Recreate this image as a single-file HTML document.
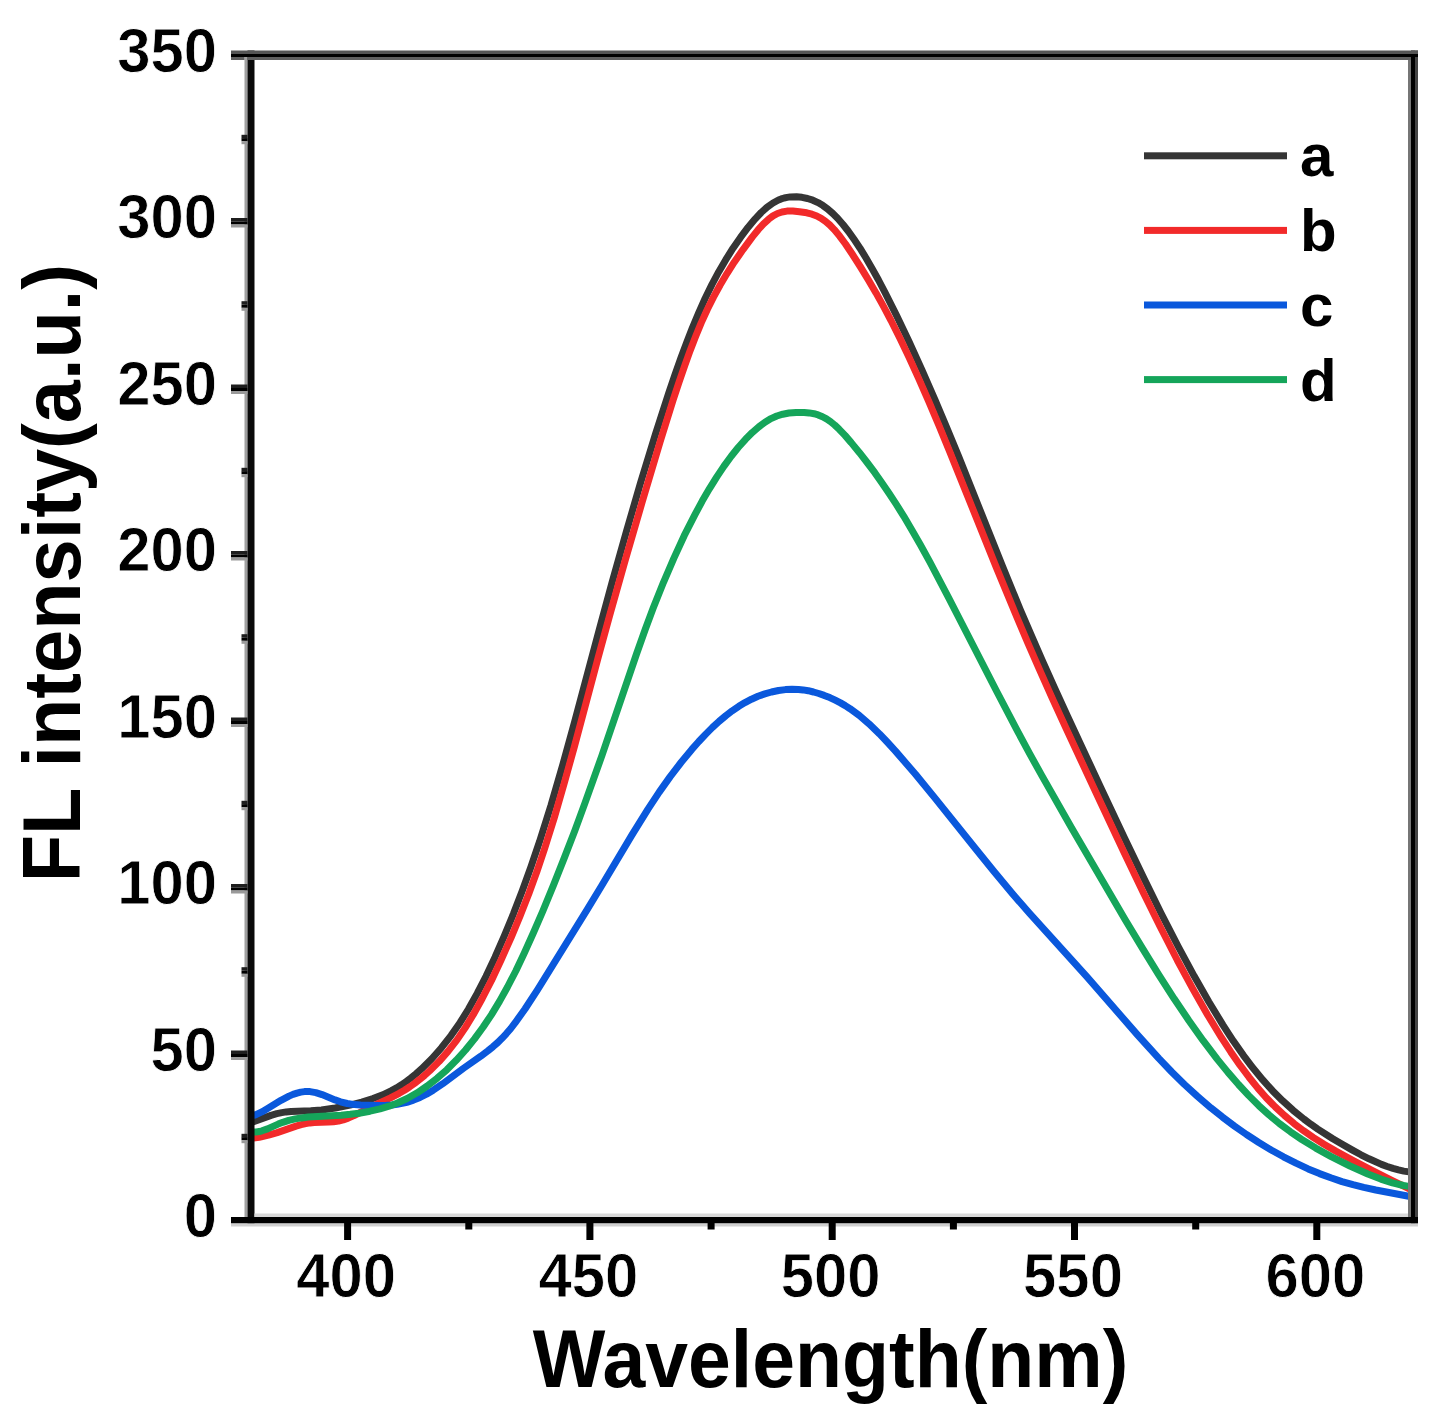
<!DOCTYPE html>
<html><head><meta charset="utf-8"><title>FL intensity vs Wavelength</title>
<style>html,body{margin:0;padding:0;background:#fff;width:1436px;height:1422px;overflow:hidden}svg{display:block}</style>
</head><body>
<svg width="1436" height="1422" viewBox="0 0 1436 1422">
<path d="M251.0,1122.6 L271.0,1115.4 L276.8,1113.7 L281.8,1112.6 L286.2,1111.9 L291.0,1111.5 L310.8,1110.8 L321.5,1110.0 L335.2,1108.0 L350.0,1105.1 L361.8,1102.1 L373.0,1098.5 L382.8,1094.8 L391.5,1090.6 L396.5,1087.9 L401.5,1084.8 L406.2,1081.5 L411.2,1077.7 L416.2,1073.6 L421.5,1068.9 L431.8,1058.7 L441.5,1047.7 L451.0,1035.6 L460.0,1022.7 L468.5,1009.0 L477.2,993.4 L486.0,976.3 L495.0,957.2 L504.2,936.1 L513.5,913.6 L522.2,890.9 L531.0,866.7 L539.5,841.7 L551.0,805.2 L563.0,763.9 L574.8,721.2 L599.8,627.7 L612.0,582.7 L626.5,531.1 L640.5,483.1 L655.5,433.9 L668.8,392.9 L675.0,374.6 L681.0,357.7 L686.8,342.3 L692.5,327.6 L699.0,312.1 L705.2,298.2 L712.0,284.4 L718.8,271.7 L725.8,259.7 L733.0,248.2 L740.5,237.4 L748.2,227.2 L755.0,219.1 L761.2,212.5 L767.2,207.1 L773.0,203.0 L778.5,200.0 L781.2,198.9 L784.2,198.0 L787.2,197.4 L790.2,196.9 L796.5,196.8 L802.0,197.3 L807.5,198.5 L812.8,200.2 L818.0,202.6 L823.0,205.6 L827.8,209.1 L832.8,213.5 L837.8,218.5 L843.0,224.5 L848.5,231.5 L854.2,239.6 L860.0,248.2 L866.0,258.0 L872.2,268.7 L878.5,280.0 L885.2,292.9 L896.5,315.4 L909.0,341.6 L921.8,369.6 L934.8,399.3 L946.5,427.0 L958.5,456.1 L1002.2,565.6 L1020.2,609.5 L1030.8,634.2 L1042.0,660.0 L1054.0,686.8 L1067.5,716.3 L1100.8,787.7 L1124.5,838.1 L1144.0,878.6 L1161.2,913.5 L1178.2,946.5 L1194.0,975.8 L1208.8,1001.7 L1223.0,1025.1 L1233.2,1040.8 L1243.2,1055.1 L1253.0,1068.1 L1262.8,1079.9 L1272.5,1090.7 L1282.5,1100.7 L1293.0,1110.2 L1304.0,1119.1 L1310.8,1124.2 L1317.8,1129.1 L1332.8,1138.8 L1341.8,1144.1 L1352.0,1149.9 L1361.0,1154.8 L1369.0,1158.8 L1381.5,1164.4 L1387.2,1166.5 L1393.0,1168.4 L1398.5,1169.9 L1403.8,1171.1 L1409.0,1171.9 L1414.0,1172.4" fill="none" stroke="#353535" stroke-width="7.0" stroke-linejoin="round"/>
<path d="M251.0,1138.3 L259.2,1137.3 L268.5,1135.2 L277.2,1132.6 L296.0,1126.1 L301.2,1124.6 L305.8,1123.6 L310.0,1122.9 L314.2,1122.5 L328.5,1122.1 L333.5,1121.8 L338.5,1121.1 L343.2,1119.9 L348.2,1118.1 L354.0,1115.6 L371.0,1106.9 L390.5,1097.8 L399.2,1093.3 L404.5,1090.2 L409.5,1087.0 L414.5,1083.5 L419.5,1079.6 L424.5,1075.5 L429.5,1071.0 L439.0,1061.6 L448.0,1051.4 L456.8,1040.1 L465.0,1028.1 L473.2,1014.7 L482.2,998.5 L491.5,980.4 L501.2,959.8 L511.2,937.3 L520.2,915.6 L528.8,893.8 L536.8,871.8 L544.5,849.0 L554.0,818.7 L564.2,783.4 L574.5,746.2 L598.0,658.1 L609.5,616.0 L625.0,561.0 L642.0,502.6 L660.2,441.5 L673.2,399.8 L679.2,381.6 L685.0,364.9 L690.2,350.4 L695.5,336.8 L701.2,322.9 L707.2,309.7 L713.5,297.1 L720.0,285.2 L726.8,273.8 L734.2,262.2 L743.0,249.6 L752.2,237.1 L758.2,229.7 L763.5,223.9 L768.5,219.3 L773.0,215.9 L777.5,213.5 L782.0,212.0 L787.0,211.1 L792.8,211.0 L799.5,211.7 L806.8,212.8 L812.0,214.2 L816.8,216.0 L821.2,218.3 L825.5,221.3 L829.8,225.0 L834.2,229.6 L839.8,236.3 L845.5,244.0 L852.2,254.0 L860.2,266.5 L868.2,279.6 L876.0,292.9 L883.5,306.4 L891.0,320.5 L900.0,338.4 L909.0,357.2 L918.5,378.1 L928.8,401.5 L938.8,425.2 L949.8,451.8 L996.5,567.9 L1016.8,617.0 L1027.8,642.9 L1039.5,669.7 L1052.2,698.2 L1066.5,729.3 L1099.8,800.8 L1123.5,851.3 L1143.0,891.9 L1160.2,926.8 L1177.2,960.0 L1192.8,988.8 L1207.5,1014.7 L1221.5,1037.7 L1230.8,1051.9 L1240.0,1065.2 L1249.0,1077.2 L1257.8,1088.1 L1266.2,1097.7 L1275.2,1106.9 L1284.5,1115.5 L1294.2,1123.7 L1303.5,1130.7 L1313.5,1137.6 L1324.0,1144.3 L1335.8,1151.1 L1351.8,1159.8 L1371.5,1170.1 L1391.8,1180.3 L1414.0,1191.1" fill="none" stroke="#f22a2a" stroke-width="7.0" stroke-linejoin="round"/>
<path d="M251.0,1116.3 L256.0,1114.6 L261.8,1111.9 L267.2,1108.7 L281.0,1100.3 L289.0,1096.1 L293.0,1094.4 L297.0,1093.1 L300.8,1092.1 L304.5,1091.6 L307.2,1091.5 L310.0,1091.6 L315.8,1092.6 L322.0,1094.6 L335.0,1099.9 L340.5,1101.8 L347.2,1103.5 L354.5,1104.6 L360.5,1105.0 L368.2,1105.3 L379.0,1105.5 L386.5,1105.3 L392.0,1104.9 L397.2,1104.3 L402.0,1103.4 L406.8,1102.3 L413.5,1100.1 L420.0,1097.4 L426.5,1094.2 L433.2,1090.2 L442.8,1083.7 L463.2,1068.5 L480.8,1056.2 L488.0,1050.8 L493.0,1046.7 L497.8,1042.5 L502.0,1038.3 L506.2,1033.8 L510.8,1028.5 L515.2,1022.7 L525.0,1009.0 L537.8,989.3 L587.0,909.9 L601.5,886.0 L632.0,834.9 L648.0,809.1 L659.2,792.1 L670.2,776.6 L681.0,762.5 L691.8,749.4 L698.8,741.5 L705.8,734.1 L712.5,727.4 L719.2,721.2 L725.8,715.7 L732.2,710.8 L738.8,706.3 L745.0,702.6 L751.5,699.2 L758.0,696.3 L764.8,693.9 L771.5,692.0 L778.5,690.5 L785.5,689.6 L792.0,689.2 L798.5,689.4 L803.2,689.9 L808.2,690.7 L813.5,692.0 L818.8,693.5 L824.2,695.4 L829.8,697.6 L835.2,700.2 L840.5,702.9 L845.2,705.6 L850.0,708.7 L859.2,715.4 L869.0,723.8 L879.5,733.9 L887.2,742.0 L895.5,751.1 L915.5,774.3 L935.0,798.1 L975.8,849.0 L994.0,871.5 L1012.5,893.7 L1029.5,913.3 L1087.0,976.8 L1137.5,1034.9 L1158.8,1058.4 L1171.8,1072.0 L1184.5,1084.5 L1197.5,1096.4 L1210.8,1107.8 L1222.5,1117.1 L1234.5,1126.1 L1246.5,1134.5 L1258.8,1142.5 L1271.2,1150.0 L1283.5,1156.8 L1296.0,1163.2 L1308.2,1168.9 L1319.5,1173.6 L1330.8,1177.8 L1342.0,1181.6 L1353.0,1184.7 L1363.8,1187.4 L1375.8,1190.0 L1414.0,1197.2" fill="none" stroke="#0a58dc" stroke-width="7.0" stroke-linejoin="round"/>
<path d="M251.0,1131.6 L253.5,1131.9 L256.2,1131.9 L259.0,1131.6 L262.0,1130.8 L267.5,1128.9 L278.2,1124.1 L282.8,1122.3 L288.8,1120.4 L295.2,1118.9 L301.5,1117.9 L308.2,1117.1 L341.2,1115.2 L350.2,1114.3 L359.0,1113.2 L370.0,1111.2 L380.0,1108.9 L389.0,1106.2 L397.5,1103.0 L407.2,1098.5 L417.2,1092.8 L427.2,1086.0 L437.2,1078.2 L446.8,1069.8 L456.2,1060.3 L465.5,1050.0 L474.5,1038.9 L483.0,1027.3 L491.5,1014.6 L499.5,1001.4 L507.5,987.0 L515.8,971.0 L524.2,953.2 L533.2,933.3 L542.8,911.2 L553.5,885.1 L564.2,858.1 L574.8,830.7 L585.2,802.4 L601.8,755.9 L636.5,654.0 L645.2,629.5 L653.2,608.1 L663.5,582.3 L673.8,558.4 L684.2,535.7 L694.8,514.9 L702.2,501.1 L709.5,488.6 L716.8,476.9 L724.0,466.1 L731.2,456.2 L738.2,447.5 L745.5,439.3 L752.5,432.3 L758.8,426.9 L765.0,422.2 L771.0,418.6 L776.8,416.0 L782.8,414.2 L789.0,413.0 L796.2,412.4 L804.2,412.4 L809.2,412.9 L814.0,413.7 L818.2,414.9 L822.5,416.7 L826.5,418.9 L830.5,421.6 L834.8,425.1 L839.2,429.3 L845.0,435.4 L851.2,442.6 L859.5,452.7 L867.5,463.0 L874.8,472.7 L882.0,482.9 L889.0,493.2 L896.0,503.9 L903.8,516.3 L912.0,530.2 L920.5,545.1 L929.8,561.9 L949.2,598.8 L996.5,691.0 L1017.8,731.6 L1029.5,753.4 L1042.0,775.9 L1071.5,827.7 L1125.2,919.7 L1142.8,948.9 L1158.5,974.3 L1174.2,998.8 L1189.0,1020.7 L1203.2,1040.7 L1217.2,1059.1 L1228.0,1072.4 L1238.5,1084.5 L1248.8,1095.6 L1259.0,1105.8 L1269.0,1114.9 L1279.5,1123.6 L1290.5,1131.8 L1301.8,1139.5 L1315.8,1148.1 L1331.2,1156.6 L1350.0,1166.0 L1367.8,1174.0 L1380.8,1179.1 L1392.5,1182.9 L1403.5,1185.5 L1408.8,1186.4 L1414.0,1187.0" fill="none" stroke="#15a55a" stroke-width="7.0" stroke-linejoin="round"/>
<rect x="244.5" y="55" width="3" height="1165" fill="#a0a0a0"/>
<rect x="247.5" y="50.5" width="7" height="1173" fill="#0a0a0a"/>
<rect x="1408" y="57" width="3" height="1160" fill="#767676"/>
<rect x="1411" y="50.5" width="4" height="1173" fill="#000"/>
<rect x="1415" y="50.5" width="3" height="1173" fill="#444"/>
<rect x="231" y="50.5" width="1187" height="3.5" fill="#555"/>
<rect x="231" y="54" width="1187" height="3" fill="#000"/>
<rect x="247.5" y="57" width="1163.5" height="3" fill="#606060"/>
<rect x="231" y="57" width="13.5" height="3" fill="#606060"/>
<rect x="254.5" y="1213.5" width="1153.5" height="3.5" fill="#d8d8d8"/>
<rect x="231" y="1217" width="1187" height="6.5" fill="#000"/>
<rect x="231" y="1223.5" width="1187" height="3" fill="#cfcfcf"/>
<rect x="241.5" y="1133.8" width="6.0" height="3.5" fill="#1e1e1e"/>
<rect x="241.5" y="1137.2" width="6.0" height="3" fill="#000"/>
<rect x="241.5" y="1140.2" width="6.0" height="3" fill="#9a9a9a"/>
<rect x="231.0" y="1050.5" width="16.5" height="3.5" fill="#1e1e1e"/>
<rect x="231.0" y="1054.0" width="16.5" height="3" fill="#000"/>
<rect x="231.0" y="1057.0" width="16.5" height="3" fill="#9a9a9a"/>
<rect x="241.5" y="967.2" width="6.0" height="3.5" fill="#1e1e1e"/>
<rect x="241.5" y="970.8" width="6.0" height="3" fill="#000"/>
<rect x="241.5" y="973.8" width="6.0" height="3" fill="#9a9a9a"/>
<rect x="231.0" y="884.0" width="16.5" height="3.5" fill="#1e1e1e"/>
<rect x="231.0" y="887.5" width="16.5" height="3" fill="#000"/>
<rect x="231.0" y="890.5" width="16.5" height="3" fill="#9a9a9a"/>
<rect x="241.5" y="800.8" width="6.0" height="3.5" fill="#1e1e1e"/>
<rect x="241.5" y="804.2" width="6.0" height="3" fill="#000"/>
<rect x="241.5" y="807.2" width="6.0" height="3" fill="#9a9a9a"/>
<rect x="231.0" y="717.5" width="16.5" height="3.5" fill="#1e1e1e"/>
<rect x="231.0" y="721.0" width="16.5" height="3" fill="#000"/>
<rect x="231.0" y="724.0" width="16.5" height="3" fill="#9a9a9a"/>
<rect x="241.5" y="634.2" width="6.0" height="3.5" fill="#1e1e1e"/>
<rect x="241.5" y="637.8" width="6.0" height="3" fill="#000"/>
<rect x="241.5" y="640.8" width="6.0" height="3" fill="#9a9a9a"/>
<rect x="231.0" y="551.0" width="16.5" height="3.5" fill="#1e1e1e"/>
<rect x="231.0" y="554.5" width="16.5" height="3" fill="#000"/>
<rect x="231.0" y="557.5" width="16.5" height="3" fill="#9a9a9a"/>
<rect x="241.5" y="467.8" width="6.0" height="3.5" fill="#1e1e1e"/>
<rect x="241.5" y="471.2" width="6.0" height="3" fill="#000"/>
<rect x="241.5" y="474.2" width="6.0" height="3" fill="#9a9a9a"/>
<rect x="231.0" y="384.5" width="16.5" height="3.5" fill="#1e1e1e"/>
<rect x="231.0" y="388.0" width="16.5" height="3" fill="#000"/>
<rect x="231.0" y="391.0" width="16.5" height="3" fill="#9a9a9a"/>
<rect x="241.5" y="301.2" width="6.0" height="3.5" fill="#1e1e1e"/>
<rect x="241.5" y="304.8" width="6.0" height="3" fill="#000"/>
<rect x="241.5" y="307.8" width="6.0" height="3" fill="#9a9a9a"/>
<rect x="231.0" y="218.0" width="16.5" height="3.5" fill="#1e1e1e"/>
<rect x="231.0" y="221.5" width="16.5" height="3" fill="#000"/>
<rect x="231.0" y="224.5" width="16.5" height="3" fill="#9a9a9a"/>
<rect x="241.5" y="134.8" width="6.0" height="3.5" fill="#1e1e1e"/>
<rect x="241.5" y="138.2" width="6.0" height="3" fill="#000"/>
<rect x="241.5" y="141.2" width="6.0" height="3" fill="#9a9a9a"/>
<rect x="344.1" y="1223" width="7" height="17.0" fill="#000"/>
<rect x="465.3" y="1223" width="7" height="6.5" fill="#000"/>
<rect x="586.4" y="1223" width="7" height="17.0" fill="#000"/>
<rect x="707.6" y="1223" width="7" height="6.5" fill="#000"/>
<rect x="828.7" y="1223" width="7" height="17.0" fill="#000"/>
<rect x="949.9" y="1223" width="7" height="6.5" fill="#000"/>
<rect x="1071.0" y="1223" width="7" height="17.0" fill="#000"/>
<rect x="1192.2" y="1223" width="7" height="6.5" fill="#000"/>
<rect x="1313.3" y="1223" width="7" height="17.0" fill="#000"/>
<text transform="translate(217,1237.0) scale(0.950,1)" text-anchor="end" style="font-family:&quot;Liberation Sans&quot;,sans-serif;font-weight:bold;font-size:63.0px;stroke:#fff;stroke-width:0.8px">0</text>
<text transform="translate(217,1070.5) scale(0.950,1)" text-anchor="end" style="font-family:&quot;Liberation Sans&quot;,sans-serif;font-weight:bold;font-size:63.0px;stroke:#fff;stroke-width:0.8px">50</text>
<text transform="translate(217,904.0) scale(0.950,1)" text-anchor="end" style="font-family:&quot;Liberation Sans&quot;,sans-serif;font-weight:bold;font-size:63.0px;stroke:#fff;stroke-width:0.8px">100</text>
<text transform="translate(217,737.5) scale(0.950,1)" text-anchor="end" style="font-family:&quot;Liberation Sans&quot;,sans-serif;font-weight:bold;font-size:63.0px;stroke:#fff;stroke-width:0.8px">150</text>
<text transform="translate(217,571.0) scale(0.950,1)" text-anchor="end" style="font-family:&quot;Liberation Sans&quot;,sans-serif;font-weight:bold;font-size:63.0px;stroke:#fff;stroke-width:0.8px">200</text>
<text transform="translate(217,404.5) scale(0.950,1)" text-anchor="end" style="font-family:&quot;Liberation Sans&quot;,sans-serif;font-weight:bold;font-size:63.0px;stroke:#fff;stroke-width:0.8px">250</text>
<text transform="translate(217,238.0) scale(0.950,1)" text-anchor="end" style="font-family:&quot;Liberation Sans&quot;,sans-serif;font-weight:bold;font-size:63.0px;stroke:#fff;stroke-width:0.8px">300</text>
<text transform="translate(217,71.5) scale(0.950,1)" text-anchor="end" style="font-family:&quot;Liberation Sans&quot;,sans-serif;font-weight:bold;font-size:63.0px;stroke:#fff;stroke-width:0.8px">350</text>
<text transform="translate(346.1,1297) scale(0.950,1)" text-anchor="middle" style="font-family:&quot;Liberation Sans&quot;,sans-serif;font-weight:bold;font-size:63.0px;stroke:#fff;stroke-width:0.8px">400</text>
<text transform="translate(588.4,1297) scale(0.950,1)" text-anchor="middle" style="font-family:&quot;Liberation Sans&quot;,sans-serif;font-weight:bold;font-size:63.0px;stroke:#fff;stroke-width:0.8px">450</text>
<text transform="translate(830.7,1297) scale(0.950,1)" text-anchor="middle" style="font-family:&quot;Liberation Sans&quot;,sans-serif;font-weight:bold;font-size:63.0px;stroke:#fff;stroke-width:0.8px">500</text>
<text transform="translate(1073.0,1297) scale(0.950,1)" text-anchor="middle" style="font-family:&quot;Liberation Sans&quot;,sans-serif;font-weight:bold;font-size:63.0px;stroke:#fff;stroke-width:0.8px">550</text>
<text transform="translate(1315.3,1297) scale(0.950,1)" text-anchor="middle" style="font-family:&quot;Liberation Sans&quot;,sans-serif;font-weight:bold;font-size:63.0px;stroke:#fff;stroke-width:0.8px">600</text>
<text transform="translate(830.5,1387) scale(0.95,1)" text-anchor="middle" style="font-family:&quot;Liberation Sans&quot;,sans-serif;font-weight:bold;font-size:81px">Wavelength(nm)</text>
<text transform="translate(80,573.1) rotate(-90) scale(0.945,1)" text-anchor="middle" style="font-family:&quot;Liberation Sans&quot;,sans-serif;font-weight:bold;font-size:82px">FL intensity(a.u.)</text>
<rect x="1144" y="152.3" width="143" height="7.0" fill="#353535"/>
<text x="1300" y="175.5" style="font-family:&quot;Liberation Sans&quot;,sans-serif;font-weight:bold;font-size:60px">a</text>
<rect x="1144" y="226.9" width="143" height="7.0" fill="#f22a2a"/>
<text x="1300" y="250.5" style="font-family:&quot;Liberation Sans&quot;,sans-serif;font-weight:bold;font-size:60px">b</text>
<rect x="1144" y="301.5" width="143" height="7.0" fill="#0a58dc"/>
<text x="1300" y="325.5" style="font-family:&quot;Liberation Sans&quot;,sans-serif;font-weight:bold;font-size:60px">c</text>
<rect x="1144" y="376.1" width="143" height="7.0" fill="#15a55a"/>
<text x="1300" y="400.5" style="font-family:&quot;Liberation Sans&quot;,sans-serif;font-weight:bold;font-size:60px">d</text>
</svg>
</body></html>
